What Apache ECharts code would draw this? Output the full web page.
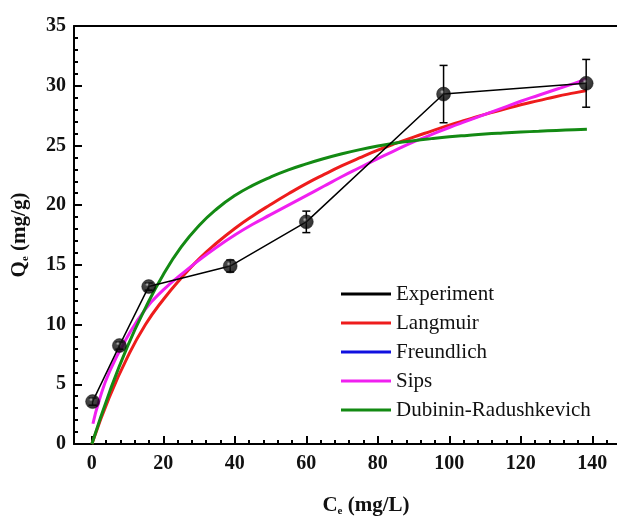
<!DOCTYPE html>
<html>
<head>
<meta charset="utf-8">
<script src="https://cdn.jsdelivr.net/npm/echarts@6/dist/echarts.min.js"></script>
<style>html,body{margin:0;padding:0;background:#fff}#c{width:617px;height:520px}</style>
</head>
<body>
<div id="c"></div>
<script>
// Experimental data
const expC = [0.2, 7.7, 15.9, 38.7, 60.0, 98.4, 138.3];
const expQ = [3.55, 8.24, 13.18, 14.9, 18.6, 29.3, 30.2];
const expErr = [0.3, 0.3, 0.3, 0.5, 0.9, 2.4, 2.0];

// Fitted curves
const langC = [0, 5, 10, 15, 20, 25, 30, 35, 40, 45, 50, 55, 60, 65, 70, 75, 80, 85, 90, 95, 100, 105, 110, 115, 120, 125, 130, 135, 138.5];
const langQ = [0, 4.0, 7.3, 10.0, 12.1, 13.9, 15.5, 16.85, 18.05, 19.1, 20.05, 20.95, 21.8, 22.57, 23.3, 23.97, 24.6, 25.17, 25.7, 26.2, 26.7, 27.15, 27.6, 28.0, 28.4, 28.75, 29.1, 29.4, 29.6];
const freuC = [];
const freuQ = [];
const sipsC = [0.3, 2, 5, 10, 15, 20, 25, 30, 35, 40, 45, 50, 55, 60, 65, 70, 75, 80, 85, 90, 95, 100, 105, 110, 115, 120, 125, 130, 135, 138.5];
const sipsQ = [1.7, 3.6, 6.1, 9.0, 11.3, 12.9, 14.2, 15.4, 16.5, 17.5, 18.4, 19.2, 20.0, 20.8, 21.6, 22.4, 23.15, 23.9, 24.6, 25.3, 25.9, 26.5, 27.05, 27.6, 28.15, 28.7, 29.2, 29.7, 30.2, 30.6];
const drC = [0, 5, 10, 15, 20, 25, 30, 35, 40, 45, 50, 55, 60, 65, 70, 75, 80, 85, 90, 95, 100, 105, 110, 115, 120, 125, 130, 135, 138.5];
const drQ = [0, 4.4, 8.2, 11.4, 14.2, 16.5, 18.3, 19.7, 20.8, 21.65, 22.35, 22.95, 23.45, 23.9, 24.3, 24.65, 24.95, 25.2, 25.4, 25.57, 25.72, 25.84, 25.95, 26.04, 26.12, 26.19, 26.26, 26.32, 26.36];

const xMajor = [0, 20, 40, 60, 80, 100, 120, 140];
const xMinor = [4, 8, 12, 16, 24, 28, 32, 36, 44, 48, 52, 56, 64, 68, 72, 76, 84, 88, 92, 96, 104, 108, 112, 116, 124, 128, 132, 136, 144, 148];

const names = ['Experiment', 'Langmuir', 'Freundlich', 'Sips', 'Dubinin-Radushkevich'];
const colors = ['#000000', '#ee1c1c', '#1010e0', '#f020f0', '#138a13'];

const FONT = '"Liberation Serif", "Times New Roman", serif';
const zip = (a, b) => a.map((v, i) => [v, b[i]]);

const chart = echarts.init(document.getElementById('c'), null, {renderer: 'canvas'});

const sphere = {
  type: 'radial', x: 0.4, y: 0.35, r: 0.6,
  colorStops: [{offset: 0, color: '#b0b0b0'}, {offset: 0.25, color: '#1a1a1a'}, {offset: 1, color: '#000'}]
};

chart.setOption({
  animation: false,
  backgroundColor: '#fff',
  grid: {left: 74, right: -11, top: 26, bottom: 76, outerBoundsMode: 'none', containLabel: false},
  legend: {
    orient: 'vertical',
    left: 341, top: 283, padding: 0,
    itemWidth: 50, itemHeight: 3, itemGap: 7,
    icon: 'rect',
    textStyle: {fontFamily: FONT, fontSize: 21, color: '#111', lineHeight: 22},
    data: names.map((n, i) => ({name: n, itemStyle: {color: colors[i]}}))
  },
  xAxis: [
    {
      type: 'value', min: -5, max: 150, position: 'bottom',
      axisLine: {show: true, onZero: false, lineStyle: {color: '#000', width: 2}},
      axisTick: {show: true, inside: true, length: 8, lineStyle: {color: '#000', width: 2}, customValues: xMajor},
      axisLabel: {customValues: xMajor, fontFamily: FONT, fontWeight: 'bold', fontSize: 20, color: '#111', margin: 10},
      splitLine: {show: false},
      name: '{q|C}{s|e}{q| (mg/L)}',
      nameLocation: 'middle', nameGap: 50,
      nameTextStyle: {
        padding: [0, 0, 0, 30],
        rich: {
          q: {fontFamily: FONT, fontWeight: 'bold', fontSize: 21, color: '#111'},
          s: {fontFamily: FONT, fontWeight: 'bold', fontSize: 11, color: '#111', padding: [12, 0, 0, 0]}
        }
      }
    },
    {
      type: 'value', min: -5, max: 150, position: 'top',
      axisLine: {show: true, onZero: false, lineStyle: {color: '#000', width: 2}},
      axisTick: {show: false}, axisLabel: {show: false}, splitLine: {show: false}
    },
    {
      type: 'value', min: -5, max: 150, position: 'bottom',
      axisLine: {show: false, onZero: false},
      axisTick: {show: true, inside: true, length: 4, lineStyle: {color: '#000', width: 2}, customValues: xMinor},
      axisLabel: {show: false}, splitLine: {show: false}
    }
  ],
  yAxis: {
    type: 'value', min: 0, max: 35, interval: 5,
    axisLine: {show: true, onZero: false, lineStyle: {color: '#000', width: 2}},
    axisTick: {show: true, inside: true, length: 8, lineStyle: {color: '#000', width: 2}},
    minorTick: {show: true, splitNumber: 5, length: 4, lineStyle: {color: '#000', width: 2}},
    axisLabel: {fontFamily: FONT, fontWeight: 'bold', fontSize: 20, color: '#111', margin: 8},
    splitLine: {show: false},
    name: '{q|Q}{s|e}{q| (mg/g)}',
    nameLocation: 'middle', nameGap: 43,
    nameTextStyle: {
      rich: {
        q: {fontFamily: FONT, fontWeight: 'bold', fontSize: 21, color: '#111'},
        s: {fontFamily: FONT, fontWeight: 'bold', fontSize: 11, color: '#111', padding: [12, 0, 0, 0]}
      }
    }
  },
  series: [
    {name: 'Langmuir', type: 'line', data: zip(langC, langQ), smooth: true, showSymbol: false, symbol: 'none',
      lineStyle: {color: colors[1], width: 3}, itemStyle: {color: colors[1]}, z: 2},
    {name: 'Freundlich', type: 'line', data: zip(freuC, freuQ), smooth: true, showSymbol: false, symbol: 'none',
      lineStyle: {color: colors[2], width: 3}, itemStyle: {color: colors[2]}, z: 2},
    {name: 'Sips', type: 'line', data: zip(sipsC, sipsQ), smooth: true, showSymbol: false, symbol: 'none',
      lineStyle: {color: colors[3], width: 3}, itemStyle: {color: colors[3]}, z: 3},
    {name: 'Dubinin-Radushkevich', type: 'line', data: zip(drC, drQ), smooth: true, showSymbol: false, symbol: 'none',
      lineStyle: {color: colors[4], width: 3}, itemStyle: {color: colors[4]}, z: 3},
    {name: 'Experiment', type: 'line', data: zip(expC, expQ), symbol: 'none',
      lineStyle: {color: '#000', width: 1.5}, itemStyle: {color: '#000'}, z: 4},
    {
      name: 'errorbars', type: 'custom', z: 5,
      encode: {x: 0, y: [1, 2]},
      data: expC.map((c, i) => [c, expQ[i] - expErr[i], expQ[i] + expErr[i]]),
      renderItem: function (params, api) {
        const x = api.value(0);
        const lo = api.coord([x, api.value(1)]);
        const hi = api.coord([x, api.value(2)]);
        const w = 4;
        const st = {stroke: '#000', lineWidth: 1.5};
        return {type: 'group', children: [
          {type: 'line', shape: {x1: lo[0], y1: lo[1], x2: hi[0], y2: hi[1]}, style: st},
          {type: 'line', shape: {x1: lo[0] - w, y1: lo[1], x2: lo[0] + w, y2: lo[1]}, style: st},
          {type: 'line', shape: {x1: hi[0] - w, y1: hi[1], x2: hi[0] + w, y2: hi[1]}, style: st}
        ]};
      }
    },
    {name: 'points', type: 'scatter', data: zip(expC, expQ), symbol: 'circle', symbolSize: 14,
      itemStyle: {color: sphere, borderColor: '#000', borderWidth: 0.5}, z: 6}
  ]
});
</script>
</body>
</html>
